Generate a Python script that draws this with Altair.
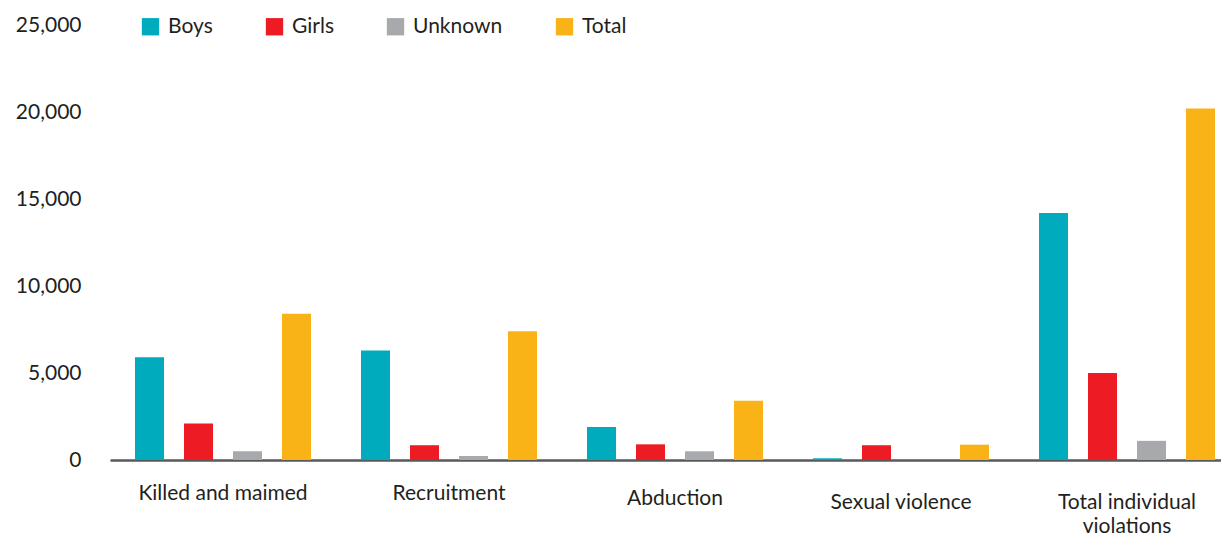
import altair as alt
import pandas as pd

categories = ["Killed and maimed", "Recruitment", "Abduction", "Sexual violence",
              "Total individual violations"]
series = ["Boys", "Girls", "Unknown", "Total"]
boys = [5900, 6300, 1900, 100, 14200]
girls = [2100, 850, 900, 850, 5000]
unknown = [500, 230, 500, 0, 1100]
total = [8400, 7400, 3400, 880, 20200]
colors = ["#00ABBD", "#ED1C24", "#A7A9AC", "#F9B317"]
y_ticks = [0, 5000, 10000, 15000, 20000, 25000]

rows = []
for i, c in enumerate(categories):
    for s, vals in zip(series, [boys, girls, unknown, total]):
        rows.append({"category": c, "series": s, "value": vals[i]})
df = pd.DataFrame(rows)

TXT = "#231F20"
FONT = "Lato"
FS = 21

chart = alt.Chart(df).mark_bar().encode(
    x=alt.X(
        "category:N", sort=categories,
        scale=alt.Scale(range=[0, 1130], paddingInner=0, paddingOuter=0),
        axis=alt.Axis(
            title=None, labelAngle=0, ticks=False, tickSize=0,
            labelPadding={
                "condition": [
                    {"test": "datum.value == 'Abduction'", "value": 27},
                    {"test": "datum.value == 'Sexual violence' || datum.value == 'Total individual violations'", "value": 31},
                ],
                "value": 22,
            },
            labelFont=FONT, labelFontSize=FS, labelColor=TXT, labelLimit=400,
            labelLineHeight=24, labelBaseline="top",
            labelExpr="datum.label == 'Total individual violations' ? ['Total individual', 'violations'] : datum.label",
            domainColor="#58595B", domainWidth=2.5, grid=False,
        ),
    ),
    xOffset=alt.XOffset("series:N", sort=series,
                        scale=alt.Scale(paddingInner=0.408, paddingOuter=0.51)),
    y=alt.Y(
        "value:Q",
        scale=alt.Scale(domain=[0, 25000], nice=False),
        axis=alt.Axis(
            title=None, values=y_ticks, format=",.0f", ticks=False, tickSize=0,
            domain=False, grid=False, labelPadding=29,
            labelFont=FONT, labelFontSize=FS, labelColor=TXT,
        ),
    ),
    color=alt.Color(
        "series:N", sort=series,
        scale=alt.Scale(domain=series, range=colors),
        legend=alt.Legend(
            title=None, orient="none", legendX=30, legendY=-9, direction="horizontal",
            symbolType="square", symbolSize=300, symbolStrokeWidth=0, symbolOpacity=1,
            labelFont=FONT, labelFontSize=FS, labelColor=TXT, labelOffset=7,
            columnPadding=51,
        ),
    ),
).properties(
    width=1111, height=435,
    autosize=alt.AutoSizeParams(type="none"),
    padding={"left": 102, "top": 17, "right": 0, "bottom": 78},
).configure_view(stroke=None)

chart.save("out.html", embed_options={"renderer": "svg", "actions": False})
